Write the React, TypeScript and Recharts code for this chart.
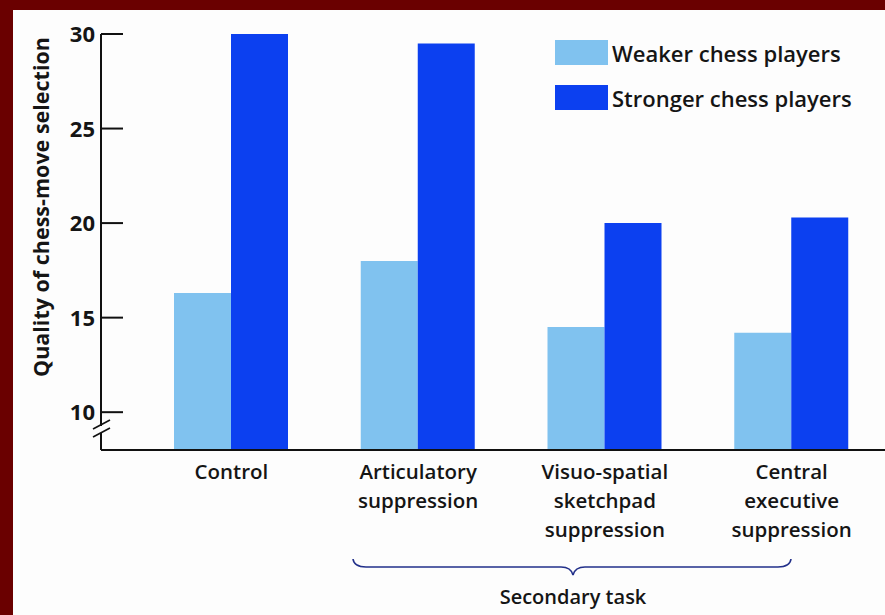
import React from 'react';
import { BarChart, Bar, XAxis, YAxis, Legend } from 'recharts';

const categories = ['Control', 'Articulatory\nsuppression', 'Visuo-spatial\nsketchpad\nsuppression', 'Central\nexecutive\nsuppression'];
const weaker = [16.3, 18.0, 14.5, 14.2];
const stronger = [30.0, 29.5, 20.0, 20.3];
const yTicks = [10, 15, 20, 25, 30];
const seriesNames = ['Weaker chess players', 'Stronger chess players'];

const LIGHT = '#80c2ef';
const DARK = '#0c40f0';
const FONT = '"Open Sans", "Noto Sans", sans-serif';

const data = categories.map((c, i) => ({ name: c, weaker: weaker[i], stronger: stronger[i] }));

const YTick = (props: any) => {
  const { x, y, payload } = props;
  return (
    <g>
      <line x1={x} x2={x + 22} y1={y} y2={y} stroke="#111" strokeWidth={2} />
      <text x={x - 6} y={y + 8} textAnchor="end" fontFamily={FONT} fontWeight={700} fontSize={22} fill="#151515">
        {payload.value}
      </text>
    </g>
  );
};

const XTick = (props: any) => {
  const { x, y, payload } = props;
  const lines = String(payload.value).split('\n');
  return (
    <text x={x} y={y} textAnchor="middle" fontFamily={FONT} fontWeight={600} fontSize={20.5} fill="#151515">
      {lines.map((l, i) => (
        <tspan key={i} x={x} y={y + 29 + i * 29}>{l}</tspan>
      ))}
    </text>
  );
};

const LegendContent = () => (
  <div style={{ fontFamily: FONT, fontWeight: 600, fontSize: 22, color: '#151515' }}>
    {seriesNames.map((n, i) => (
      <div key={n} style={{ display: 'flex', alignItems: 'center', height: 45 }}>
        <div style={{ width: 53, height: 25, background: i === 0 ? LIGHT : DARK, marginRight: 4 }} />
        <span>{n}</span>
      </div>
    ))}
  </div>
);

export default function App() {
  return (
    <div style={{ position: 'fixed', left: 0, top: 0, width: 885, height: 615, background: '#6a0000', overflow: 'hidden' }}>
      <div style={{ position: 'absolute', left: 13, top: 10, width: 872, height: 605, background: '#fdfdfd' }} />
      <div style={{ position: 'absolute', left: 0, top: 0 }}>
        <BarChart width={885} height={615} data={data} margin={{ top: 34, right: 0, bottom: 0, left: 41 }} barGap={0} barSize={57}>
          <XAxis
            dataKey="name"
            height={165}
            padding={{ left: 37, right: 0 }}
            axisLine={{ stroke: '#111', strokeWidth: 2 }}
            tickLine={false}
            tickSize={0}
            tickMargin={0}
            tick={<XTick />}
            interval={0}
          />
          <YAxis
            width={60}
            domain={[8, 30]}
            ticks={yTicks}
            allowDataOverflow
            axisLine={{ stroke: '#111', strokeWidth: 2 }}
            tickLine={false}
            tickSize={0}
            tickMargin={0}
            tick={<YTick />}
            label={{ value: 'Quality of chess-move selection', angle: -90, position: 'insideLeft', dx: -5, dy: -35, style: { fontFamily: FONT, fontWeight: 700, fontSize: 21.5, fill: '#151515', textAnchor: 'middle' } }}
          />
          <Legend
            layout="vertical"
            align="center"
            verticalAlign="middle"
            content={<LegendContent />}
            wrapperStyle={{ position: 'absolute', left: 555, top: 30, width: 330 }}
          />
          <Bar dataKey="weaker" name={seriesNames[0]} fill={LIGHT} isAnimationActive={false} />
          <Bar dataKey="stronger" name={seriesNames[1]} fill={DARK} isAnimationActive={false} />
        </BarChart>
      </div>
      <svg width={885} height={615} style={{ position: 'absolute', left: 0, top: 0, pointerEvents: 'none' }}>
        <rect x={96} y={426} width={10} height={7} fill="#fdfdfd" />
        <line x1={93} y1={429} x2={110} y2={420} stroke="#111" strokeWidth={1.6} />
        <line x1={93} y1={437} x2={110} y2={428} stroke="#111" strokeWidth={1.6} />
        <path d="M353,559 Q354,567 366,567 L561,567 Q571,567 573,575 Q575,567 585,567 L778,567 Q790,567 791,559" fill="none" stroke="#22308a" strokeWidth={1.6} />
        <text x={573} y={604} textAnchor="middle" fontFamily={FONT} fontWeight={600} fontSize={20} fill="#151515">Secondary task</text>
      </svg>
    </div>
  );
}
